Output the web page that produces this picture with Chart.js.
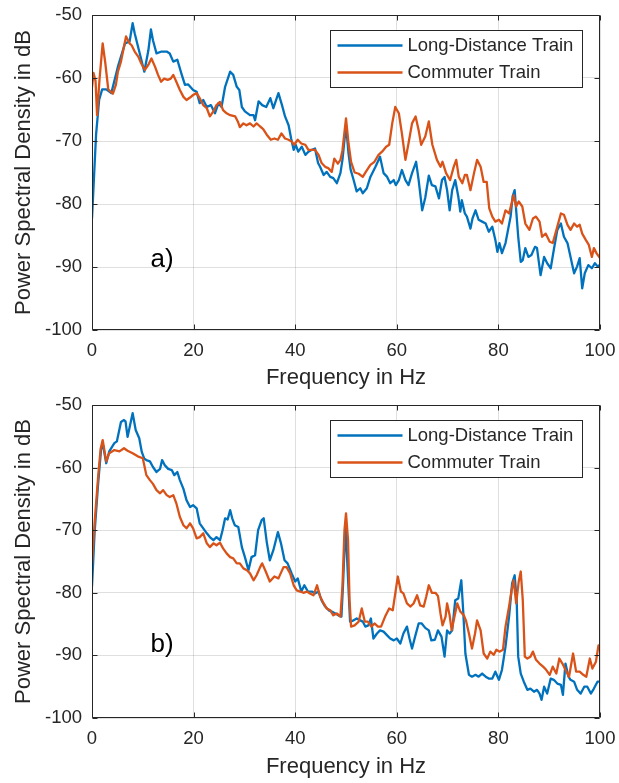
<!DOCTYPE html>
<html>
<head>
<meta charset="utf-8">
<script src="https://cdn.jsdelivr.net/npm/chart.js@4.4.1/dist/chart.umd.min.js"></script>
<style>
  body { margin: 0; background: #fff; }
  canvas { display: block; }
</style>
</head>
<body>
<canvas id="psdA" width="619" height="391"></canvas>
<canvas id="psdB" width="619" height="392"></canvas>
<script>
const xTicks = [0, 20, 40, 60, 80, 100];
const yTicks = [-100, -90, -80, -70, -60, -50];
const seriesNames = ['Long-Distance Train', 'Commuter Train'];
const seriesColors = ['#0072BD', '#D95319'];

// panel a) long-distance train
const longA_f = [0, 0.8, 1.4, 2.0, 2.8, 3.8, 5.1, 6.5, 7.4, 8.0, 8.4,
  9.4, 10.3, 11.1, 11.6, 12.0, 12.7, 13.7, 14.7, 15.3, 16.0,
  16.8, 17.6, 18.3, 18.9, 19.9, 20.6, 21.2, 21.9, 22.6, 23.4,
  24.2, 24.9, 25.5, 26.2, 27.2, 27.8, 28.5, 29.0, 29.5, 30.1,
  31.1, 31.8, 32.1, 32.8, 33.5, 34.3, 35.1, 35.7, 36.7, 37.4,
  38.0, 38.7, 39.2, 39.7, 40.1, 40.6, 41.3, 42.0, 42.6, 43.3,
  43.9, 44.5, 44.9, 45.6, 46.2, 46.9, 47.5, 48.2, 48.9, 49.3,
  50.0, 50.5, 50.9, 51.5, 52.1, 52.8, 53.3, 54.1, 54.8, 55.8,
  56.7, 57.4, 58.1, 58.7, 59.4, 59.8, 60.4, 61.0, 61.7, 62.3,
  63.0, 63.8, 64.3, 65.0, 65.6, 66.3, 66.9, 67.6, 68.3, 68.9,
  69.4, 69.9, 70.4, 70.9, 71.5, 72.1, 72.5, 72.8, 73.4, 73.8,
  74.5, 74.9, 75.5, 76.1, 76.8, 77.5, 78.1, 78.8, 79.4, 79.8,
  80.2, 80.7, 81.4, 81.9, 82.4, 82.8, 83.2, 83.5, 83.9, 84.4,
  84.8, 85.3, 85.9, 86.5, 87.2, 87.6, 88.3, 89.0, 89.6, 90.3,
  90.9, 91.6, 92.3, 92.9, 93.6, 94.2, 94.9, 95.5, 96.0, 96.5,
  97.0, 97.7, 98.4, 99.0, 99.5, 100];
const longA_db = [-82.3, -69.0, -63.5, -61.8, -61.8, -62.4, -58.2, -54.5, -54.2, -51.3, -52.9,
  -56.1, -59.0, -55.6, -52.3, -54.0, -56.1, -55.8, -55.8, -56.1, -57.4,
  -57.1, -59.3, -61.1, -61.0, -61.9, -62.2, -64.0, -63.5, -64.6, -64.3,
  -65.6, -64.0, -64.6, -61.4, -59.0, -59.5, -61.4, -61.9, -64.6, -65.3,
  -65.9, -65.9, -66.7, -63.7, -64.3, -64.6, -63.2, -64.8, -62.4, -64.3,
  -66.1, -67.5, -69.6, -71.4, -70.6, -71.7, -70.9, -72.2, -71.7, -71.4,
  -71.2, -73.5, -74.1, -75.4, -74.9, -75.7, -75.9, -76.7, -75.1, -73.0,
  -67.5, -72.0, -74.5, -76.2, -78.0, -77.5, -78.3, -77.5, -75.7, -74.1,
  -72.5, -75.1, -75.7, -76.7, -76.2, -77.0, -76.2, -74.6, -76.2, -77.0,
  -75.1, -73.3, -76.2, -81.0, -79.0, -75.5, -77.0, -77.2, -79.1, -76.2,
  -75.7, -77.8, -81.0, -77.8, -76.2, -78.8, -81.2, -79.4, -81.5, -82.0,
  -83.9, -82.3, -81.0, -82.5, -82.8, -83.1, -84.4, -83.6, -85.7, -87.6,
  -86.2, -87.8, -86.2, -84.1, -82.0, -78.8, -77.8, -81.0, -85.2, -89.2,
  -88.9, -87.0, -88.4, -88.1, -86.8, -87.0, -91.3, -88.4, -89.4, -90.2,
  -87.3, -84.1, -83.1, -85.2, -86.2, -88.4, -91.0, -89.9, -88.6, -93.4,
  -91.0, -89.7, -90.2, -89.4, -89.9, -89.7];

// panel a) commuter train
const commA_f = [0, 0.3, 0.7, 1.0, 1.5, 2.1, 2.6, 3.2, 4.1, 4.7,
  5.1, 5.7, 6.7, 7.4, 7.8, 8.4, 9.1, 9.7, 10.4, 11.1,
  11.7, 12.4, 13.0, 13.6, 14.2, 14.9, 15.5, 16.0, 16.6, 17.3,
  18.0, 18.6, 19.3, 19.9, 20.6, 21.2, 21.9, 22.6, 23.2, 23.9,
  24.5, 25.2, 25.8, 26.5, 27.2, 28.2, 28.7, 29.1, 29.8, 30.4,
  31.1, 31.8, 32.4, 33.1, 33.7, 34.4, 35.2, 35.9, 36.6, 37.3,
  38.0, 38.7, 39.3, 39.8, 40.5, 41.2, 42.0, 42.6, 43.3, 43.9,
  44.6, 45.2, 45.9, 46.5, 47.2, 47.7, 48.4, 48.9, 49.3, 50.0,
  50.5, 51.0, 51.7, 52.5, 53.3, 53.9, 54.8, 55.6, 56.4, 57.1,
  57.9, 58.5, 59.1, 59.7, 60.4, 61.0, 61.7, 62.3, 63.0, 63.7,
  64.3, 64.8, 65.6, 66.3, 67.0, 67.9, 68.6, 69.0, 69.7, 70.5,
  71.2, 71.7, 72.2, 72.9, 73.4, 73.8, 74.5, 75.2, 75.8, 76.5,
  77.1, 77.7, 78.2, 78.8, 79.4, 80.1, 80.7, 81.4, 82.1, 82.6,
  83.0, 83.5, 84.0, 84.7, 85.3, 86.1, 86.8, 87.4, 88.1, 88.6,
  89.3, 90.1, 90.7, 91.6, 92.3, 92.9, 93.6, 94.2, 94.9, 95.5,
  96.0, 96.5, 97.2, 97.8, 98.4, 98.8, 99.3, 100];
const commA_db = [-61.5, -59.2, -60.5, -65.9, -60.0, -54.5, -57.5, -61.8, -62.5, -61.1,
  -59.0, -57.4, -53.4, -54.5, -54.8, -55.8, -56.6, -57.7, -58.7, -57.9,
  -56.9, -58.2, -59.5, -60.6, -60.1, -60.3, -60.1, -59.5, -60.6, -61.9,
  -63.0, -63.5, -63.1, -62.7, -62.4, -63.2, -64.3, -64.8, -66.1, -65.3,
  -64.3, -63.8, -65.1, -65.6, -65.9, -66.1, -66.9, -67.8, -67.2, -67.5,
  -67.2, -67.7, -67.2, -67.7, -68.1, -69.0, -69.8, -69.6, -69.8, -68.8,
  -69.6, -69.8, -70.1, -70.6, -69.8, -70.4, -70.6, -71.4, -71.4, -71.4,
  -72.2, -73.5, -74.1, -74.3, -74.9, -72.8, -73.6, -73.0, -71.5, -66.4,
  -70.4, -73.3, -75.0, -75.2, -75.7, -74.9, -73.8, -73.3, -72.2, -71.7,
  -70.9, -70.6, -67.2, -64.6, -65.6, -68.8, -73.0, -70.4, -67.2, -66.1,
  -68.3, -70.6, -69.3, -66.9, -70.6, -73.0, -74.1, -73.3, -75.1, -76.2,
  -74.1, -73.0, -75.7, -76.7, -75.4, -75.4, -77.8, -75.1, -73.0, -74.1,
  -76.5, -76.5, -80.7, -82.0, -82.8, -82.5, -83.1, -81.0, -81.5, -79.9,
  -78.6, -80.4, -79.6, -80.4, -83.1, -84.1, -82.3, -82.0, -82.8, -85.2,
  -84.7, -86.0, -86.2, -83.6, -81.5, -81.7, -83.3, -84.1, -83.1, -83.6,
  -83.3, -84.7, -85.7, -86.5, -88.4, -87.0, -87.8, -88.6];

// panel b) long-distance train
const longB_f = [0, 0.5, 1.2, 1.8, 2.2, 2.8, 3.4, 4.4, 4.9, 5.7,
  6.3, 6.6, 7.0, 7.5, 8.0, 8.6, 9.3, 9.8, 10.3, 10.7,
  11.4, 12.0, 12.7, 13.4, 13.8, 14.3, 15.0, 15.7, 16.2, 16.8,
  17.3, 18.0, 18.6, 19.3, 19.9, 20.6, 21.2, 21.9, 22.6, 23.2,
  23.9, 24.5, 25.2, 25.7, 26.2, 26.7, 27.2, 27.6, 28.1, 28.8,
  29.5, 30.1, 30.8, 31.4, 32.1, 32.7, 33.4, 33.8, 34.4, 35.0,
  35.7, 36.6, 37.2, 37.9, 38.5, 39.3, 40.0, 40.5, 41.2, 41.8,
  42.5, 43.3, 43.9, 44.6, 45.2, 45.9, 46.6, 47.2, 47.9, 48.5,
  49.1, 49.4, 49.9, 50.3, 50.8, 51.5, 52.1, 52.8, 53.3, 53.8,
  54.4, 54.9, 55.4, 56.1, 56.7, 57.4, 58.1, 58.7, 59.4, 60.0,
  60.7, 61.3, 62.0, 62.5, 63.0, 63.6, 64.3, 64.9, 65.6, 66.3,
  66.8, 67.5, 68.1, 68.8, 69.4, 69.9, 70.4, 70.9, 71.5, 72.1,
  72.7, 73.1, 73.5, 74.2, 74.8, 75.5, 76.1, 76.8, 77.5, 78.1,
  78.8, 79.4, 80.1, 80.7, 81.4, 82.1, 82.7, 83.2, 83.6, 83.9,
  84.4, 85.0, 85.7, 86.3, 87.0, 87.6, 88.1, 88.5, 89.0, 89.6,
  90.3, 90.9, 91.6, 92.3, 92.7, 93.2, 93.8, 94.2, 94.9, 95.5,
  96.2, 96.9, 97.5, 98.2, 98.8, 99.5, 100];
const longB_db = [-79.0, -70.5, -62.6, -57.0, -56.5, -59.3, -57.4, -56.1, -55.8, -52.7,
  -52.4, -52.6, -55.1, -53.2, -51.3, -54.0, -55.3, -57.5, -58.6, -58.8,
  -59.0, -59.9, -60.7, -60.2, -58.8, -59.6, -60.2, -60.4, -61.2, -60.7,
  -62.0, -63.4, -65.2, -66.3, -66.0, -66.5, -68.9, -69.7, -70.5, -71.1,
  -71.6, -71.1, -71.6, -70.0, -68.1, -68.3, -66.8, -68.1, -69.2, -69.5,
  -72.7, -74.3, -76.4, -74.3, -74.0, -70.0, -68.4, -68.1, -71.9, -74.8,
  -73.2, -70.3, -72.1, -74.8, -75.3, -76.9, -78.2, -77.7, -79.8, -78.8,
  -79.8, -79.8, -80.1, -79.8, -81.2, -82.2, -82.8, -83.0, -83.3, -83.6,
  -83.8, -79.0, -69.0, -76.0, -84.6, -84.4, -84.1, -84.4, -84.6, -85.4,
  -85.2, -84.1, -87.3, -86.5, -86.0, -86.2, -86.8, -87.3, -87.6, -87.3,
  -88.1, -86.5, -85.4, -87.3, -88.9, -87.0, -84.9, -84.9, -85.6, -86.0,
  -87.6, -87.5, -86.0, -87.0, -90.2, -86.0, -86.5, -86.0, -81.2, -80.9,
  -78.0, -83.3, -89.7, -93.1, -93.4, -93.1, -93.4, -92.9, -93.4, -93.7,
  -93.7, -92.6, -93.9, -92.3, -88.6, -83.8, -78.5, -77.2, -81.2, -90.2,
  -92.9, -94.2, -95.5, -95.3, -95.8, -95.5, -96.1, -97.1, -95.0, -96.1,
  -93.7, -93.9, -94.5, -94.7, -96.3, -91.3, -93.4, -93.9, -94.2, -95.5,
  -96.1, -95.0, -95.0, -96.1, -95.3, -94.2, -94.2];

// panel b) commuter train
const commB_f = [0, 0.5, 1.2, 1.7, 2.1, 2.8, 3.4, 4.4, 5.4, 6.3,
  7.0, 8.0, 9.0, 10.0, 10.7,
  11.4, 12.0, 12.7, 13.4, 14.0, 14.7, 15.3, 16.0, 16.6, 17.3,
  18.0, 18.6, 19.3, 19.9, 20.6, 21.2, 21.9, 22.6, 23.2, 23.9,
  24.5, 25.2, 25.8, 26.5, 27.2, 27.8, 28.5, 29.1, 29.8, 30.5,
  31.1, 31.8, 32.4, 33.1, 33.5, 34.2, 35.0, 35.9, 36.7, 37.7,
  38.3, 39.0, 39.7, 40.3, 41.0, 41.6, 42.3, 42.9, 43.6, 44.3,
  44.9, 45.6, 46.2, 46.9, 47.5, 48.2, 48.9, 49.3, 49.7, 50.0,
  50.4, 50.7, 51.0, 51.7, 52.5, 53.1, 53.7, 54.3, 55.0, 55.6,
  56.3, 56.9, 57.7, 58.5, 59.2, 59.7, 60.2, 60.8, 61.3, 62.0,
  62.7, 63.3, 64.0, 64.6, 65.3, 65.8, 66.3, 66.9, 67.6, 68.1,
  68.6, 69.0, 69.6, 69.9, 70.4, 70.8, 71.2, 71.9, 72.5, 73.2,
  73.6, 74.2, 74.8, 75.4, 75.8, 76.5, 77.1, 77.8, 78.4, 79.1,
  79.6, 80.2, 80.9, 81.4, 82.1, 82.6, 83.0, 83.5, 84.0, 84.4,
  84.8, 85.2, 85.7, 86.3, 86.8, 87.4, 88.1, 88.8, 89.4, 90.1,
  90.7, 91.4, 92.0, 92.6, 93.2, 93.9, 94.7, 95.3, 96.0, 96.7,
  97.3, 98.0, 98.5, 99.2, 99.7, 100];
const commB_db = [-75.3, -69.0, -61.5, -57.0, -55.6, -59.0, -57.7, -57.2, -57.4, -56.9,
  -57.3, -57.7, -58.2, -58.5, -61.2,
  -62.0, -62.6, -63.6, -64.1, -63.6, -64.4, -64.7, -64.4, -65.7, -67.9,
  -69.2, -69.7, -68.9, -69.7, -71.3, -71.1, -70.5, -72.1, -72.7, -72.1,
  -72.4, -72.0, -72.9, -73.7, -74.3, -74.5, -75.3, -75.3, -76.1, -76.4,
  -76.9, -78.0, -77.2, -75.9, -75.3, -76.6, -78.2, -77.4, -77.7, -75.9,
  -75.9, -76.9, -78.8, -79.6, -79.8, -80.0, -79.8, -80.1, -80.4, -78.8,
  -80.6, -81.7, -82.5, -82.8, -83.6, -83.3, -83.8, -79.0, -70.0, -67.3,
  -71.6, -81.2, -85.4, -85.2, -84.6, -82.5, -84.6, -84.6, -85.4, -84.9,
  -85.4, -85.4, -83.8, -82.5, -82.8, -80.1, -77.4, -79.8, -80.1, -81.7,
  -82.2, -81.7, -80.4, -82.0, -82.2, -80.6, -78.8, -80.0, -80.0, -80.5,
  -83.3, -85.2, -83.8, -81.7, -83.6, -86.0, -84.4, -81.7, -83.0, -83.6,
  -84.4, -86.5, -88.9, -86.5, -84.4, -86.0, -89.7, -90.5, -89.4, -89.9,
  -89.1, -89.4, -89.1, -85.4, -82.2, -79.6, -78.0, -81.7, -78.2, -76.6,
  -81.2, -90.2, -90.5, -90.2, -89.4, -90.7, -91.3, -91.8, -92.3, -93.1,
  -91.8, -92.9, -90.5, -91.3, -92.3, -93.4, -89.7, -92.6, -92.6, -93.1,
  -93.4, -90.5, -92.1, -91.0, -88.4, -88.9];

const textColor = '#262626';
const fontFamily = '"Liberation Sans", Arial, Helvetica, sans-serif';

function toPoints(fs, dbs) {
    return fs.map((f, i) => ({ x: f, y: dbs[i] }));
}

// matlab style box, inward ticks, legend and panel tag
const axesDecor = {
    id: 'axesDecor',
    afterDraw(chart, args, opts) {
        const { ctx, chartArea: a, scales: { x, y } } = chart;
        const L = Math.round(a.left) + 0.5, R = Math.round(a.right) - 0.5;
        const T = Math.round(a.top) + 0.5, B = Math.round(a.bottom) - 0.5;
        ctx.save();
        ctx.strokeStyle = textColor;
        ctx.lineWidth = 1;
        ctx.beginPath();
        ctx.rect(L, T, R - L, B - T);
        xTicks.forEach(v => {
            const px = Math.round(x.getPixelForValue(v)) + 0.5;
            ctx.moveTo(px, B); ctx.lineTo(px, B - 5);
            ctx.moveTo(px, T); ctx.lineTo(px, T + 5);
        });
        yTicks.forEach(v => {
            const py = Math.round(y.getPixelForValue(v)) + 0.5;
            ctx.moveTo(L, py); ctx.lineTo(L + 5, py);
            ctx.moveTo(R, py); ctx.lineTo(R - 5, py);
        });
        ctx.stroke();

        // legend
        const bx = Math.round(a.right) - 270 + 0.5, by = Math.round(a.top) + 15 + 0.5;
        ctx.fillStyle = '#fff';
        ctx.fillRect(bx, by, 252, 57);
        ctx.strokeRect(bx, by, 252, 57);
        ctx.font = '18.5px ' + fontFamily;
        ctx.textBaseline = 'middle';
        ctx.textAlign = 'left';
        chart.data.datasets.forEach((ds, i) => {
            const ly = by + 15 + i * 27;
            ctx.strokeStyle = ds.borderColor;
            ctx.lineWidth = 2.3;
            ctx.beginPath();
            ctx.moveTo(bx + 7, ly); ctx.lineTo(bx + 72, ly);
            ctx.stroke();
            ctx.fillStyle = textColor;
            ctx.fillText(ds.label, bx + 77, ly);
        });

        // panel tag
        ctx.font = '26px ' + fontFamily;
        ctx.textAlign = 'center';
        ctx.fillStyle = '#000';
        ctx.fillText(opts.tag, x.getPixelForValue(opts.tagX), y.getPixelForValue(opts.tagY));
        ctx.restore();
    }
};

function makeChart(id, longF, longDb, commF, commDb, cfg) {
    const ctx = document.getElementById(id).getContext('2d');
    return new Chart(ctx, {
        type: 'line',
        data: {
            datasets: [
                { label: seriesNames[0], data: toPoints(longF, longDb), borderColor: seriesColors[0], order: 1 },
                { label: seriesNames[1], data: toPoints(commF, commDb), borderColor: seriesColors[1], order: 0 }
            ]
        },
        options: {
            responsive: false,
            animation: false,
            devicePixelRatio: 1,
            parsing: false,
            layout: { padding: { top: cfg.padTop, right: 19, bottom: 0, left: 0 } },
            elements: {
                line: { borderWidth: 2.3, tension: 0, borderCapStyle: 'round', borderJoinStyle: 'round' },
                point: { radius: 0, hoverRadius: 0 }
            },
            plugins: {
                legend: { display: false },
                tooltip: { enabled: false },
                axesDecor: { tag: cfg.tag, tagX: 13.8, tagY: cfg.tagY }
            },
            scales: {
                x: {
                    type: 'linear',
                    min: 0, max: 100,
                    afterBuildTicks: s => { s.ticks = xTicks.map(v => ({ value: v })); },
                    afterFit: s => { s.height = cfg.xAxisH; s.paddingLeft = 0; s.paddingRight = 0; },
                    grid: { color: 'rgba(38,38,38,0.15)', drawTicks: false },
                    border: { display: false },
                    ticks: { color: textColor, padding: 10, maxRotation: 0, font: { family: fontFamily, size: 18.5 } },
                    title: {
                        display: true, text: 'Frequency in Hz', color: textColor,
                        padding: { top: 0, bottom: cfg.titlePad },
                        font: { family: fontFamily, size: 22 }
                    }
                },
                y: {
                    min: -100, max: -50,
                    afterBuildTicks: s => { s.ticks = yTicks.map(v => ({ value: v })); },
                    afterFit: s => { s.width = 92; s.paddingTop = 0; s.paddingBottom = 0; },
                    grid: { color: 'rgba(38,38,38,0.15)', drawTicks: false },
                    border: { display: false },
                    ticks: { color: textColor, padding: 10, font: { family: fontFamily, size: 18.5 } },
                    title: {
                        display: true, text: 'Power Spectral Density in dB', color: textColor,
                        padding: { top: 11, bottom: 0 },
                        font: { family: fontFamily, size: 22 }
                    }
                }
            }
        },
        plugins: [axesDecor]
    });
}

makeChart('psdA', longA_f, longA_db, commA_f, commA_db, { padTop: 15, xAxisH: 61, titlePad: 0, tag: 'a)', tagY: -88.9 });
makeChart('psdB', longB_f, longB_db, commB_f, commB_db, { padTop: 14, xAxisH: 65, titlePad: 3, tag: 'b)', tagY: -88.3 });
</script>
</body>
</html>
